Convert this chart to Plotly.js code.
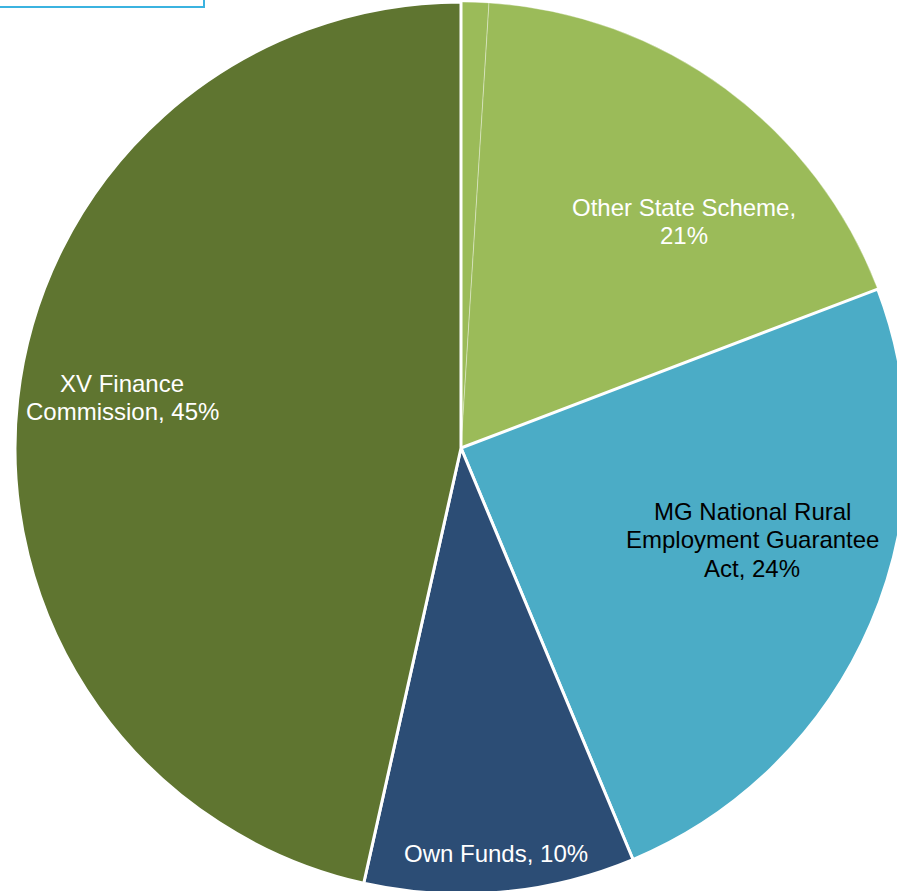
<!DOCTYPE html>
<html>
<head>
<meta charset="utf-8">
<script src="https://cdn.plot.ly/plotly-3.0.1.min.js"></script>
<style>
  html, body { margin: 0; padding: 0; overflow: hidden; background: #fff; }
  #chart { width: 922px; height: 896px; }
</style>
</head>
<body>
<div id="chart"></div>
<script>
// ---- data ----
var categories = ['Other', 'Other State Scheme', 'MG National Rural Employment Guarantee Act', 'Own Funds', 'XV Finance Commission'];
var shares = [1.0, 18.2, 24.5, 9.8, 46.5];          // slice sizes as drawn
var labelPct = [null, 21, 24, 10, 45];               // percentages printed on the labels
var colors = ['#9BBB59', '#9BBB59', '#4BACC6', '#2C4D75', '#5F7530'];

// ---- layout config (pixels in the page) ----
var W = 922, H = 896;
var CX = 461, CY = 448, R = 446;
var wrapChars = [0, 19, 20, 20, 15];
var labelCenters = [null, [684, 207], [752, 511], [496, 853], [122, 383]];
var labelColors = [null, '#FFFFFF', '#000000', '#FFFFFF', '#FFFFFF'];
var LINE_H = 28.5;
var FONT = 'Liberation Sans, Arial, sans-serif';

function wrap(str, maxC) {
  var words = str.split(' '), lines = [], cur = '';
  words.forEach(function (w) {
    var t = cur ? cur + ' ' + w : w;
    if (cur && t.length > maxC) { lines.push(cur); cur = w; } else { cur = t; }
  });
  if (cur) lines.push(cur);
  return lines;
}

var annotations = [];
categories.forEach(function (c, i) {
  if (labelPct[i] === null) return;
  var lines = wrap(c + ', ' + labelPct[i] + '%', wrapChars[i]);
  lines.forEach(function (ln, k) {
    annotations.push({
      xref: 'paper', yref: 'paper',
      x: labelCenters[i][0] / W,
      y: 1 - (labelCenters[i][1] + k * LINE_H) / H,
      xanchor: 'center', yanchor: 'middle',
      text: ln, showarrow: false,
      font: { family: FONT, size: 24, color: labelColors[i] }
    });
  });
});

var trace = {
  type: 'pie',
  labels: categories,
  values: shares,
  sort: false,
  direction: 'clockwise',
  rotation: 0,
  textinfo: 'none',
  hoverinfo: 'label+percent',
  marker: {
    colors: colors,
    line: {
      color: ['rgba(255,255,255,0.35)', 'rgba(255,255,255,0.35)', '#FFFFFF', '#FFFFFF', '#FFFFFF'],
      width: [1, 1, 3, 3, 3]
    }
  },
  domain: {
    x: [(CX - R) / W, (CX + R) / W],
    y: [1 - (CY + R) / H, 1 - (CY - R) / H]
  }
};

var layout = {
  width: W, height: H,
  margin: { l: 0, r: 0, t: 0, b: 0, pad: 0 },
  showlegend: false,
  paper_bgcolor: '#FFFFFF',
  annotations: annotations,
  shapes: [{
    type: 'rect', xref: 'paper', yref: 'paper',
    x0: -10 / W, x1: 204 / W, y0: 1 - 7 / H, y1: 1 + 10 / H,
    line: { color: '#3BB3E0', width: 2 },
    fillcolor: 'rgba(0,0,0,0)'
  }]
};

Plotly.newPlot('chart', [trace], layout, { displayModeBar: false, staticPlot: true });
</script>
</body>
</html>
